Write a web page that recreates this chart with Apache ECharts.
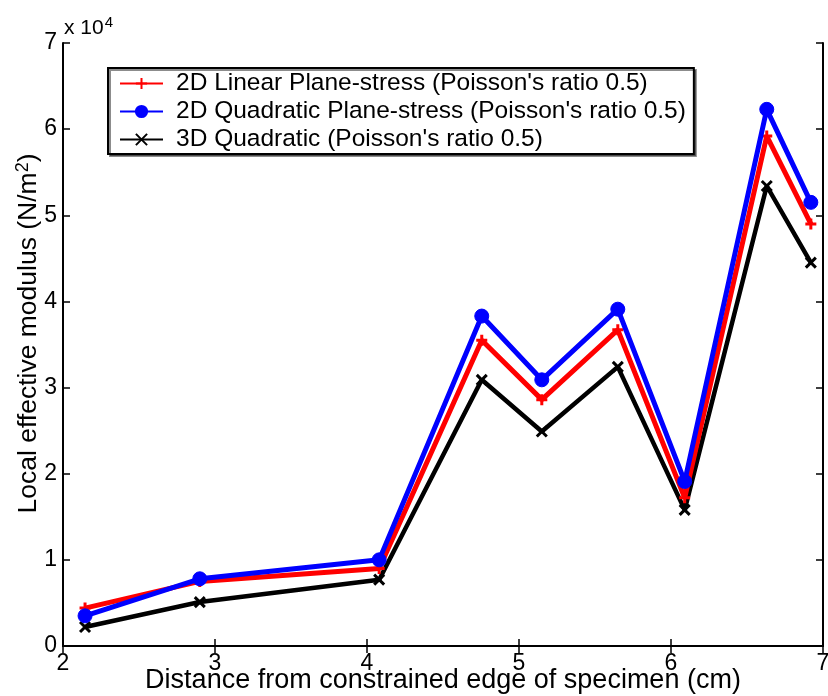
<!DOCTYPE html>
<html><head><meta charset="utf-8">
<script src="https://cdn.jsdelivr.net/npm/echarts@6/dist/echarts.min.js"></script>
<style>html,body{margin:0;padding:0;background:#fff}#c{width:828px;height:696px}</style>
</head><body><div id="c"></div>
<script>
const xVals = [2.145, 2.90, 4.08, 4.755, 5.15, 5.65, 6.09, 6.63, 6.92];
const linearPS = [4400, 7500, 9000, 35500, 28600, 36700, 17200, 59200, 49000];
const quadPS = [3500, 7800, 10000, 38300, 30900, 39100, 19100, 62300, 51500];
const quad3D = [2200, 5100, 7700, 30900, 24900, 32400, 15800, 53400, 44500];
const seriesNames = ["2D Linear Plane-stress (Poisson's ratio 0.5)", "2D Quadratic Plane-stress (Poisson's ratio 0.5)", "3D Quadratic (Poisson's ratio 0.5)"];
const xTicks = [2, 3, 4, 5, 6, 7];
const yTicks = [0, 1, 2, 3, 4, 5, 6, 7];

const font = 'Liberation Sans, Arial, sans-serif';
const pair = (arr) => xVals.map((x, i) => [x, arr[i]]);
const chart = echarts.init(document.getElementById('c'), null, {renderer: 'canvas'});
const axisCommon = {
  axisLine: {lineStyle: {color: '#000', width: 2}},
  axisTick: {inside: true, length: 7, lineStyle: {color: '#000', width: 1.5}},
  splitLine: {show: false}
};
chart.setOption({
  animation: false,
  backgroundColor: '#fff',
  grid: {left: 63, top: 43, width: 760, height: 603, containLabel: false, outerBoundsMode: 'none'},
  xAxis: [
    Object.assign({type: 'value', min: xTicks[0], max: xTicks[xTicks.length - 1], interval: 1, position: 'bottom',
      axisLabel: {color: '#000', fontSize: 23, fontFamily: font, margin: 6},
      name: 'Distance from constrained edge of specimen (cm)', nameLocation: 'middle', nameGap: 21, nameMoveOverlap: false,
      nameTextStyle: {color: '#000', fontSize: 27, fontFamily: font}}, axisCommon),
    Object.assign({type: 'value', min: xTicks[0], max: xTicks[xTicks.length - 1], interval: 1, position: 'top',
      axisLabel: {show: false}}, axisCommon)
  ],
  yAxis: [
    Object.assign({type: 'value', min: 0, max: yTicks[yTicks.length - 1] * 10000, interval: 10000, position: 'left',
      axisLabel: {color: '#000', fontSize: 23, fontFamily: font, margin: 6, formatter: v => String(v / 10000)},
      name: '{a|Local effective modulus (N/m}{s|2}{a|)}', nameLocation: 'middle', nameGap: 19, nameMoveOverlap: false,
      nameTextStyle: {padding: [0, 0, 0, 22], rich: {a: {color: '#000', fontSize: 26.5, fontFamily: font}, s: {color: '#000', fontSize: 18, fontFamily: font, verticalAlign: 'top', padding: [0, 0, 12, 0]}}}}, axisCommon),
    Object.assign({type: 'value', min: 0, max: yTicks[yTicks.length - 1] * 10000, interval: 10000, position: 'right',
      axisLabel: {show: false}}, axisCommon)
  ],
  legend: {
    left: 108, top: 68, orient: 'vertical',
    data: seriesNames,
    itemWidth: 43, itemHeight: 14, itemGap: 3,
    padding: [3, 8, 2, 11],
    borderColor: '#000', borderWidth: 2, backgroundColor: '#fff',
    shadowColor: 'rgba(0,0,0,0.45)', shadowBlur: 0, shadowOffsetX: 2, shadowOffsetY: 2,
    textStyle: {color: '#000', fontSize: 24.5, lineHeight: 24, fontFamily: font, padding: [0, 0, 0, 8]},
    selectedMode: false
  },
  graphic: [{
    type: 'text', left: 64, top: 15,
    style: {text: '{a|x 10}{s|4}', rich: {a: {fontSize: 21, fontFamily: font, fill: '#000'}, s: {fontSize: 15, fontFamily: font, fill: '#000', verticalAlign: 'top', padding: [0, 0, 12, 1]}}}
  }],
  series: [
    {name: seriesNames[0], type: 'line', data: pair(linearPS), symbol: 'path://M0,5L10,5M5,0L5,10', symbolSize: 11,
      lineStyle: {color: '#ff0000', width: 5}, itemStyle: {color: '#ff0000', borderColor: '#ff0000', borderWidth: 3}, z: 3},
    {name: seriesNames[1], type: 'line', data: pair(quadPS), symbol: 'circle', symbolSize: 14,
      lineStyle: {color: '#0000ff', width: 5}, itemStyle: {color: '#0000ff', borderColor: '#0000ff', borderWidth: 1}, z: 4},
    {name: seriesNames[2], type: 'line', data: pair(quad3D), symbol: 'path://M0,0L10,10M10,0L0,10', symbolSize: 10,
      lineStyle: {color: '#000', width: 4.5}, itemStyle: {color: '#000', borderColor: '#000', borderWidth: 3}, z: 2}
  ]
});
</script></body></html>
